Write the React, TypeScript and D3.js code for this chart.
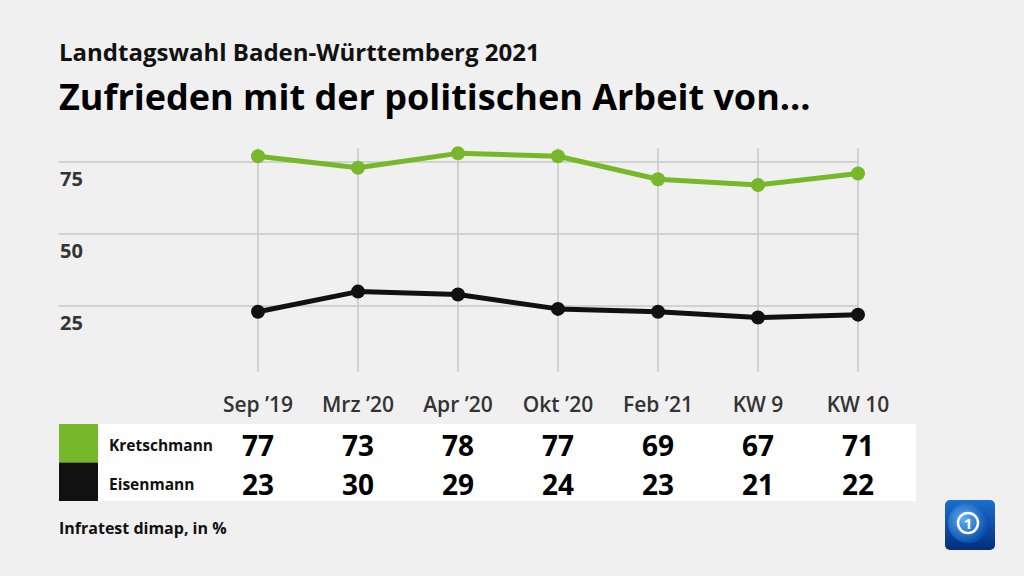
import React from "react";
import * as d3 from "d3";

const categories = ["Sep ’19", "Mrz ’20", "Apr ’20", "Okt ’20", "Feb ’21", "KW 9", "KW 10"];
const kretschmann = [77, 73, 78, 77, 69, 67, 71];
const eisenmann = [23, 30, 29, 24, 23, 21, 22];
const yTicks = [25, 50, 75];
const seriesNames = ["Kretschmann", "Eisenmann"];
const seriesColors = ["#77b82a", "#111111"];

const W = 1024;
const H = 576;
const FONT = "'Open Sans', 'Noto Sans', sans-serif";

export default function App() {
  const x = d3.scalePoint<string>().domain(categories).range([258, 858]);
  const y = d3.scaleLinear().domain([0, 75]).range([378, 162]);
  const line = d3
    .line<number>()
    .x((_, i) => x(categories[i]) as number)
    .y((d) => y(d));
  const series = [kretschmann, eisenmann];

  return (
    <svg
      width={W}
      height={H}
      style={{ position: "absolute", left: 0, top: 0, background: "#f0f0f0" }}
      fontFamily={FONT}
    >
      <rect x={0} y={0} width={W} height={H} fill="#f0f0f0" />
      <text x={59} y={61} fontSize={24} fontWeight={700} fill="#111">
        Landtagswahl Baden-Württemberg 2021
      </text>
      <text x={59} y={110} fontSize={36} fontWeight={700} fill="#000">
        Zufrieden mit der politischen Arbeit von…
      </text>

      {/* horizontal grid */}
      {yTicks.map((t) => (
        <g key={t}>
          <line x1={59} x2={858} y1={y(t)} y2={y(t)} stroke="#c8c8c8" strokeWidth={1.5} />
          <text x={60} y={y(t) + 24} fontSize={20} fontWeight={700} fill="#333">
            {t}
          </text>
        </g>
      ))}
      {/* vertical grid */}
      {categories.map((c) => (
        <line key={c} x1={x(c)} x2={x(c)} y1={148} y2={372} stroke="#c8c8c8" strokeWidth={1.5} />
      ))}

      {series.map((s, si) => (
        <g key={si}>
          <path d={line(s) || ""} fill="none" stroke={seriesColors[si]} strokeWidth={5} strokeLinejoin="round" />
          {s.map((v, i) => (
            <circle key={i} cx={x(categories[i])} cy={y(v)} r={7} fill={seriesColors[si]} />
          ))}
        </g>
      ))}

      {categories.map((c) => (
        <text key={c} x={x(c)} y={412} textAnchor="middle" fontSize={21} fontWeight={600} fill="#333">
          {c}
        </text>
      ))}

      {/* table */}
      <rect x={59} y={424} width={857} height={77} fill="#ffffff" />
      {series.map((s, si) => {
        const top = 424 + si * 38.5;
        return (
          <g key={si}>
            <rect x={59} y={top} width={39} height={38.5} fill={seriesColors[si]} />
            <text x={109} y={top + 27} fontSize={15.5} fontWeight={700} fill="#111">
              {seriesNames[si]}
            </text>
            {s.map((v, i) => (
              <text
                key={i}
                x={x(categories[i])}
                y={top + 32}
                textAnchor="middle"
                fontSize={28}
                fontWeight={700}
                fill="#000"
              >
                {v}
              </text>
            ))}
          </g>
        );
      })}

      <text x={59} y={534} fontSize={16} fontWeight={700} fill="#111">
        Infratest dimap, in %
      </text>

      {/* logo */}
      <defs>
        <linearGradient id="lg" x1="0" y1="0" x2="0" y2="1">
          <stop offset="0" stopColor="#1a6fd0" />
          <stop offset="1" stopColor="#032e7a" />
        </linearGradient>
        <radialGradient id="rg" cx="0.4" cy="0.4" r="0.6">
          <stop offset="0" stopColor="#5fb0f0" />
          <stop offset="1" stopColor="#0b4fb0" />
        </radialGradient>
      </defs>
      <rect x={945} y={500} width={50} height={50} rx={5} fill="url(#lg)" />
      <circle cx={968} cy={523} r={20} fill="url(#rg)" />
      <circle cx={968} cy={523} r={10} fill="none" stroke="#ffffff" strokeWidth={2.5} />
      <text x={968} y={529} textAnchor="middle" fontSize={15} fontWeight={700} fill="#ffffff">
        1
      </text>
    </svg>
  );
}
